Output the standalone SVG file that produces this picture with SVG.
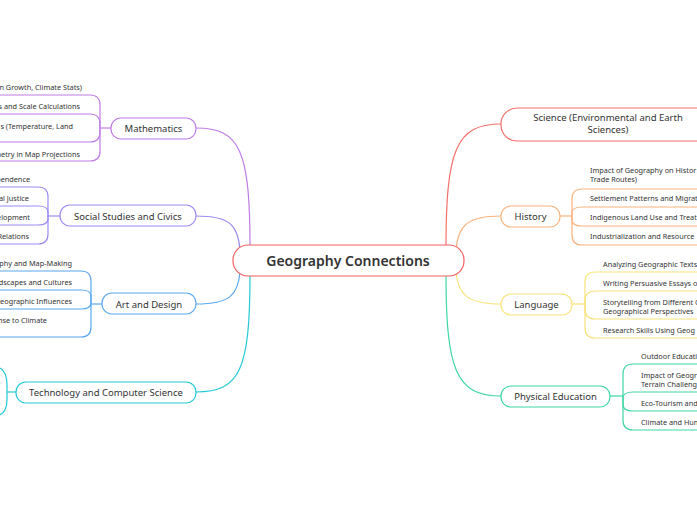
<svg xmlns="http://www.w3.org/2000/svg" width="697" height="520" viewBox="0 0 697 520">
<style>
text{font-family:"Noto Sans","DejaVu Sans",sans-serif;fill:#333}
.s{font-size:7.3px}
.n{font-size:9.5px;text-anchor:middle}
.e{text-anchor:end}
path,rect{fill:none;stroke-width:1.2}
.nb{fill:#fff}
</style>
<rect width="697" height="520" fill="#fff" stroke="none"/>
<g id="connectors">
<path d="M250,248 C250,150 240,128 196,128" stroke="#c07de6"/>
<path d="M240,250 C238,225 230,216 196,216" stroke="#9a8cf5"/>
<path d="M240,272 C238,295 230,304 196,304" stroke="#5aa8f0"/>
<path d="M250,274 C250,370 240,392 196,392" stroke="#22c9d6"/>
<path d="M446,248 C446,150 456,124 501,124" stroke="#f2706a"/>
<path d="M456,250 C458,225 468,216 501,216" stroke="#f8b27f"/>
<path d="M456,272 C458,295 468,304 501,304" stroke="#f9e27a"/>
<path d="M446,274 C446,370 456,396 501,396" stroke="#3fd6a6"/>
<g stroke="#c07de6"><path d="M0,95 H90 Q100,95 100,105 V151 Q100,161 90,161 H0"/><path d="M0,114 H90 Q100,114 100,124 V132 Q100,142 90,142 H0"/><path d="M100,128 H111"/></g>
<g stroke="#9a8cf5"><path d="M0,187 H38 Q48,187 48,197 V234 Q48,244 38,244 H0"/><path d="M0,206 H38 Q48,206 48,212 V219 Q48,225 38,225 H0"/><path d="M48,216 H60"/></g>
<g stroke="#5aa8f0"><path d="M0,271 H81 Q91,271 91,281 V327 Q91,337 81,337 H0"/><path d="M0,290 H81 Q91,290 91,296 V303 Q91,309 81,309 H0"/><path d="M91,304 H102"/></g>
<g stroke="#22c9d6"><path d="M0,368 Q7,372 7,385 V400 Q7,411 0,415"/><path d="M7,392 H16"/></g>
<g stroke="#f8b27f"><path d="M697,189 H582 Q572,189 572,199 V235 Q572,245 582,245 H697"/><path d="M697,207 H582 Q572,207 572,213 V220 Q572,226 582,226 H697"/><path d="M560,216 H572"/></g>
<g stroke="#f9e27a"><path d="M697,272 H595 Q585,272 585,282 V328 Q585,338 595,338 H697"/><path d="M697,291 H595 Q585,291 585,301 V309 Q585,319 595,319 H697"/><path d="M572,304 H585"/></g>
<g stroke="#3fd6a6"><path d="M697,364 H633 Q623,364 623,374 V420 Q623,430 633,430 H697"/><path d="M697,392 H633 Q623,392 623,398 V405 Q623,411 633,411 H697"/><path d="M610,396 H623"/></g>
</g>
<g id="center"><rect class="nb" x="233" y="245" width="231" height="31" rx="15" stroke="#f06060" stroke-width="2"/><text x="348" y="266" class="n" style="font-size:14px;font-weight:600">Geography Connections</text></g>
<g id="math"><rect class="nb" x="111" y="118" width="85" height="21" rx="10" stroke="#c07de6"/><text x="153.5" y="131.5" class="n">Mathematics</text>
<text class="s e" x="82" y="90">n Growth, Climate Stats)</text><text class="s e" x="80" y="109">s and Scale Calculations</text><text class="s e" x="73" y="129">s (Temperature, Land</text><text class="s e" x="80" y="157">metry in Map Projections</text></g>
<g id="social"><rect class="nb" x="60" y="205" width="136" height="21" rx="10" stroke="#9a8cf5"/><text x="128" y="219.5" class="n">Social Studies and Civics</text>
<text class="s e" x="30" y="182">pendence</text><text class="s e" x="29" y="201">al Justice</text><text class="s e" x="30" y="220">elopment</text><text class="s e" x="29" y="239">Relations</text></g>
<g id="art"><rect class="nb" x="102" y="293" width="94" height="21" rx="10" stroke="#5aa8f0"/><text x="149" y="307.5" class="n">Art and Design</text>
<text class="s e" x="72" y="266">phy and Map-Making</text><text class="s e" x="72" y="285">dscapes and Cultures</text><text class="s e" x="72" y="304">Geographic Influences</text><text class="s e" x="47" y="323">nse to Climate</text></g>
<g id="tech"><rect class="nb" x="16" y="382" width="180" height="21" rx="10" stroke="#22c9d6"/><text x="106" y="396" class="n">Technology and Computer Science</text></g>
<g id="science"><rect class="nb" x="501" y="108" width="212" height="33" rx="16" stroke="#f2706a"/><text x="608" y="121" class="n">Science (Environmental and Earth</text><text x="608" y="133" class="n">Sciences)</text></g>
<g id="history"><rect class="nb" x="501" y="206" width="59" height="21" rx="10" stroke="#f8b27f"/><text x="530.5" y="220" class="n">History</text>
<text class="s" x="590" y="173">Impact of Geography on Histor</text><text class="s" x="590" y="182">Trade Routes)</text><text class="s" x="590" y="201">Settlement Patterns and Migrati</text><text class="s" x="590" y="220">Indigenous Land Use and Treat</text><text class="s" x="590" y="239">Industrialization and Resource</text></g>
<g id="language"><rect class="nb" x="501" y="294" width="71" height="21" rx="10" stroke="#f9e27a"/><text x="536.5" y="308" class="n">Language</text>
<text class="s" x="603" y="267">Analyzing Geographic Texts</text><text class="s" x="603" y="286">Writing Persuasive Essays o</text><text class="s" x="603" y="305">Storytelling from Different G</text><text class="s" x="603" y="314">Geographical Perspectives</text><text class="s" x="603" y="333">Research Skills Using Geog</text></g>
<g id="pe"><rect class="nb" x="501" y="386" width="109" height="21" rx="10" stroke="#3fd6a6"/><text x="555.5" y="400" class="n">Physical Education</text>
<text class="s" x="641" y="359">Outdoor Educati</text><text class="s" x="641" y="378">Impact of Geogr</text><text class="s" x="641" y="387">Terrain Challeng</text><text class="s" x="641" y="406">Eco-Tourism and</text><text class="s" x="641" y="425">Climate and Hum</text></g>
</svg>
